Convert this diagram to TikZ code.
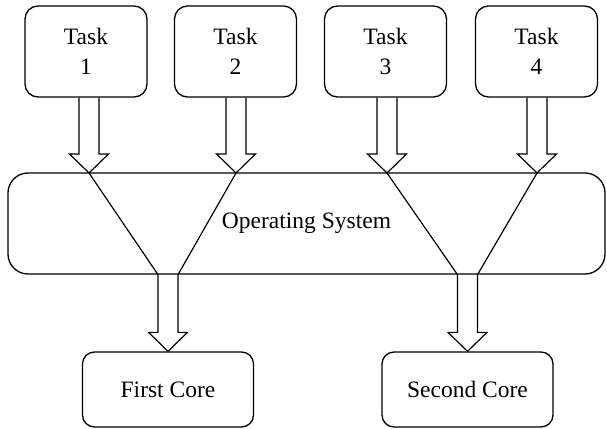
\documentclass[tikz,border=0pt]{standalone}
\usepackage{fontspec}
\setmainfont{Liberation Serif}
\usetikzlibrary{calc}
\tikzset{
  box/.style={draw, line width=1.3pt, align=center, inner sep=0pt,
    font=\fontsize{23.5pt}{30pt}\selectfont},
  taskbox/.style={box, rounded corners=13pt, minimum width=122pt, minimum height=91pt},
  osbox/.style={box, rounded corners=20pt, minimum width=597pt, minimum height=101pt},
  corebox/.style={box, rounded corners=12pt, minimum width=171pt, minimum height=75pt},
  hollow/.style={draw, line width=1.2pt, line join=miter},
  vline/.style={draw, line width=1.2pt},
}
% hollow block arrow: #1 gives the level of the open shaft end, #2 the tip
\newcommand\hollowarrow[2]{%
  \draw[hollow] let \p1=(#1), \p2=(#2) in
    (\x2-10pt,\y1) -- (\x2-10pt,\y2+19pt) -- (\x2-19.5pt,\y2+19pt) -- (\x2,\y2)
    -- (\x2+19.5pt,\y2+19pt) -- (\x2+10pt,\y2+19pt) -- (\x2+10pt,\y1);}
\begin{document}
\begin{tikzpicture}[x=1pt, y=-1pt]
  \useasboundingbox (0,0) rectangle (607,428);

  % tasks
  \node[taskbox] (t1) at (86,51.5)    {Task\\1};
  \node[taskbox] (t2) at (235.5,51.5) {Task\\2};
  \node[taskbox] (t3) at (385.5,51.5) {Task\\3};
  \node[taskbox] (t4) at (536.5,51.5) {Task\\4};

  % operating system
  \node[osbox] (os) at (306.5,223.5) {Operating System};

  % cores
  \node[corebox] (c1) at (168,389.5) {First Core};
  \node[corebox] (c2) at (467.5,389.5) {Second Core};

  % arrow tips on the top edge of the OS box
  \coordinate (p1) at (89,173);
  \coordinate (p2) at (236,173);
  \coordinate (p3) at (387,173);
  \coordinate (p4) at (537,173);

  % shaft corners on the bottom edge of the OS box
  \coordinate (q1l) at ($(c1.north |- os.south)+(-10pt,0)$);
  \coordinate (q1r) at ($(c1.north |- os.south)+(10pt,0)$);
  \coordinate (q2l) at ($(c2.north |- os.south)+(-10pt,0)$);
  \coordinate (q2r) at ($(c2.north |- os.south)+(10pt,0)$);

  % tasks into the OS
  \hollowarrow{t1.south}{p1}
  \hollowarrow{t2.south}{p2}
  \hollowarrow{t3.south}{p3}
  \hollowarrow{t4.south}{p4}

  % scheduling paths through the OS
  \draw[vline] (p1) -- (q1l);
  \draw[vline] (p2) -- (q1r);
  \draw[vline] (p3) -- (q2l);
  \draw[vline] (p4) -- (q2r);

  % OS to the cores
  \hollowarrow{os.south}{c1.north}
  \hollowarrow{os.south}{c2.north}
\end{tikzpicture}
\end{document}
